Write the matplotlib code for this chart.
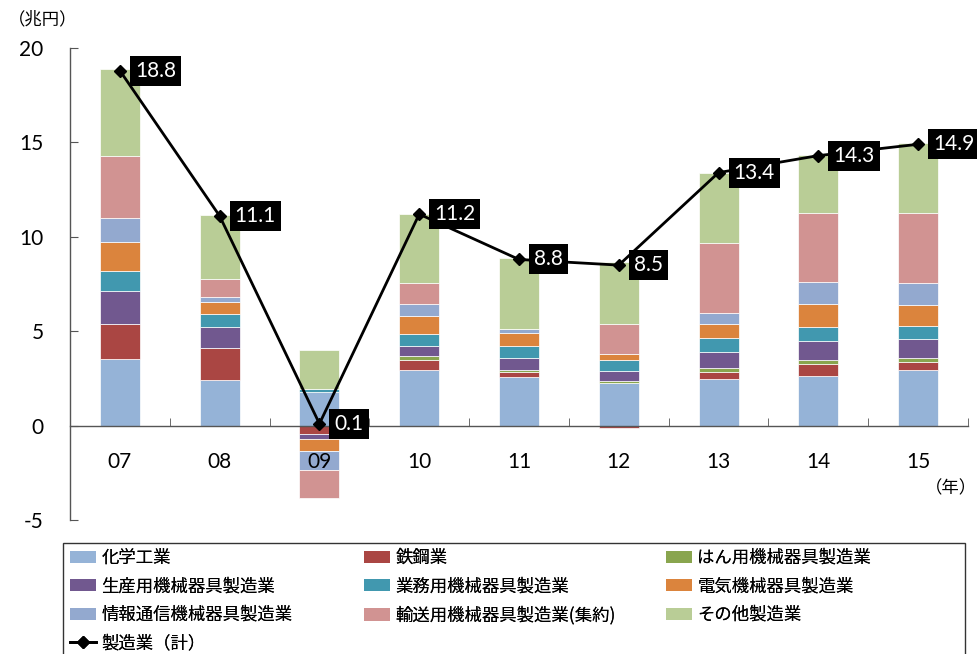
import numpy as np
import matplotlib
matplotlib.use("Agg")
import matplotlib.pyplot as plt
from matplotlib.patches import Rectangle, Patch
from matplotlib.lines import Line2D

plt.rcParams['font.family'] = ['Lato', 'Noto Sans CJK JP', 'DejaVu Sans']

years = ['07', '08', '09', '10', '11', '12', '13', '14', '15']

chem = [3.54, 2.41, 1.80, 2.95, 2.58, 2.26, 2.47, 2.62, 2.93]
steel = [1.82, 1.71, -0.42, 0.55, 0.27, -0.15, 0.37, 0.62, 0.43]
general = [0.0, 0.0, 0.0, 0.18, 0.12, 0.09, 0.20, 0.21, 0.23]
production = [1.77, 1.10, -0.29, 0.53, 0.61, 0.53, 0.88, 1.03, 0.99]
business = [1.06, 0.70, 0.15, 0.62, 0.66, 0.58, 0.71, 0.74, 0.71]
electrical = [1.54, 0.62, -0.65, 0.97, 0.67, 0.34, 0.76, 1.24, 1.11]
info = [1.29, 0.27, -1.01, 0.65, 0.22, 0.0, 0.57, 1.16, 1.13]
transport = [3.27, 0.95, -1.47, 1.10, 0.0, 1.59, 3.71, 3.64, 3.73]
other = [4.60, 3.38, 2.05, 3.64, 3.77, 3.29, 3.73, 3.08, 3.70]
total = [18.8, 11.1, 0.1, 11.2, 8.8, 8.5, 13.4, 14.3, 14.9]

series_names = ['化学工業', '鉄鋼業', 'はん用機械器具製造業',
                '生産用機械器具製造業', '業務用機械器具製造業', '電気機械器具製造業',
                '情報通信機械器具製造業', '輸送用機械器具製造業(集約)', 'その他製造業']
total_name = '製造業（計）'
series_values = [chem, steel, general, production, business, electrical,
                 info, transport, other]
colors = ['#95B3D7', '#AA4643', '#89A54E', '#71588F', '#4198AF', '#DB843D',
          '#93A9CF', '#D19392', '#B9CD96']

fig = plt.figure(figsize=(9.77, 6.54), dpi=100)
ax = fig.add_axes([70 / 977, (654 - 520) / 654, (968 - 70) / 977, (520 - 48) / 654])
ax.set_axisbelow(False)

x = np.arange(len(years))
pos_bottom = np.zeros(len(years))
neg_bottom = np.zeros(len(years))
for vals, col in zip(series_values, colors):
    v = np.array(vals, dtype=float)
    bottom = np.where(v >= 0, pos_bottom, neg_bottom)
    ax.bar(x, v, width=0.4, bottom=bottom, color=col,
           edgecolor='white', linewidth=0.5, zorder=2)
    pos_bottom += np.where(v >= 0, v, 0)
    neg_bottom += np.where(v < 0, v, 0)

ax.plot(x, total, color='black', linewidth=2.0, marker='D', markersize=6,
        zorder=4, clip_on=False)

for xi, t in zip(x, total):
    ax.annotate(f'{t:.1f}', xy=(xi, t), xytext=(15, 0), textcoords='offset pixels',
                ha='left', va='center', fontsize=15, color='white',
                bbox=dict(boxstyle='square,pad=0.24', fc='black', ec='none'),
                zorder=5, annotation_clip=False)

ax.set_xlim(-0.5, len(years) - 0.5)
ax.set_ylim(-5, 20)
ax.set_yticks([-5, 0, 5, 10, 15, 20])
ax.set_yticklabels(['-5', '0', '5', '10', '15', '20'])
ax.set_xticks(x)
ax.set_xticklabels(years)
ax.set_xticks(np.arange(len(years)) + 0.5, minor=True)

for s in ['top', 'right']:
    ax.spines[s].set_visible(False)
ax.spines['bottom'].set_position(('data', 0))
ax.spines['bottom'].set_color('#555555')
ax.spines['left'].set_color('#555555')
ax.spines['bottom'].set_linewidth(1.0)
ax.spines['left'].set_linewidth(1.0)

ax.tick_params(axis='x', which='major', length=0, pad=19, labelsize=15)
ax.tick_params(axis='x', which='minor', direction='in', length=6, color='#555555')
ax.tick_params(axis='y', direction='in', length=6, pad=19, labelsize=15, color='#555555')

fig.text(8 / 977, 1 - 19 / 654, '（兆円）', fontsize=12.5, ha='left', va='center',
         family=['Noto Sans CJK JP'])
fig.text(977 / 977, 1 - 488 / 654, '（年）', fontsize=12.5, ha='right', va='center',
         family=['Noto Sans CJK JP'])

# legend frame
fig.patches.append(Rectangle((63 / 977, -0.05), (965 - 63) / 977, 0.05 + (654 - 543) / 654,
                             transform=fig.transFigure, fill=False, ec='#333333', lw=1.0))

handles = [Patch(facecolor=c, edgecolor='none') for c in colors]
line_handle = Line2D([], [], color='black', linewidth=2.0, marker='D', markersize=6)
columns = [
    ([handles[0], handles[3], handles[6], line_handle],
     [series_names[0], series_names[3], series_names[6], total_name], 70),
    ([handles[1], handles[4], handles[7]],
     [series_names[1], series_names[4], series_names[7]], 364),
    ([handles[2], handles[5], handles[8]],
     [series_names[2], series_names[5], series_names[8]], 666),
]
for hs, labs, xpx in columns:
    lg = fig.legend(hs, labs, loc='upper left',
                    bbox_to_anchor=(xpx / 977, 1 - 549 / 654),
                    frameon=False, handlelength=1.5, handleheight=0.7,
                    handletextpad=0.3, labelspacing=0.6, borderpad=0.0,
                    borderaxespad=0.0,
                    prop={'family': ['Noto Sans CJK JP'], 'size': 12.5})
    fig.add_artist(lg)

fig.savefig('out.png', dpi=100)
